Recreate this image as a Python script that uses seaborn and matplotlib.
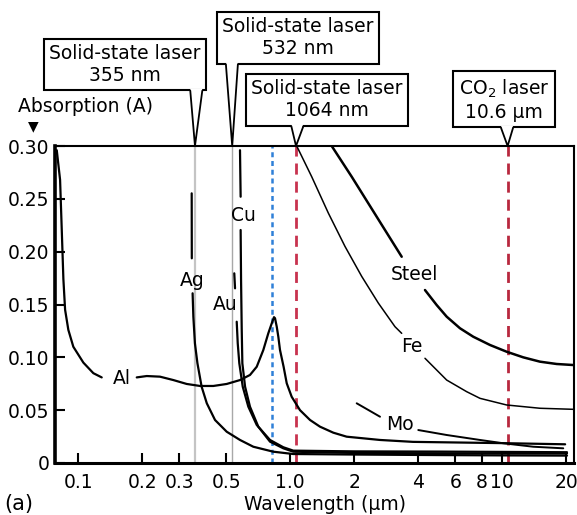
import matplotlib
matplotlib.use("Agg")
import matplotlib.pyplot as plt
from matplotlib.patches import Polygon
from matplotlib.lines import Line2D
import numpy as np
import pandas as pd
import seaborn as sns

# ---------------- data (wavelength in um, absorption A) ----------------
al1_wl = [0.0791, 0.0820, 0.0835, 0.0850, 0.0866, 0.0897, 0.0947, 0.1056, 0.1177, 0.1289]
al1_abs = [0.296, 0.268, 0.221, 0.174, 0.145, 0.126, 0.110, 0.095, 0.085, 0.081]
al2_wl = [0.1886, 0.2102, 0.2428, 0.2806, 0.3246, 0.3751, 0.4334, 0.5012, 0.579, 0.6453,
          0.6944, 0.7458, 0.7873, 0.8172, 0.8377, 0.847, 0.863, 0.878, 0.894, 0.930,
          0.962, 1.015, 1.111, 1.239, 1.380, 1.595, 1.845, 2.65, 3.79, 10.0, 19.8]
al2_abs = [0.0810, 0.0823, 0.0817, 0.0785, 0.0748, 0.0729, 0.0729, 0.0748, 0.0785, 0.0833,
           0.0911, 0.1069, 0.1227, 0.1321, 0.1380, 0.1370, 0.1290, 0.1195, 0.1070, 0.0910,
           0.0754, 0.0627, 0.0500, 0.0407, 0.0344, 0.0287, 0.0249, 0.0218, 0.0200, 0.0188, 0.0177]

ag1_wl = [0.3426, 0.3430]
ag1_abs = [0.2552, 0.1937]
ag2_wl = [0.3460, 0.3488, 0.3548, 0.3646, 0.3816, 0.4037, 0.4414, 0.5012, 0.579, 0.669,
          0.831, 1.033, 2.0, 5.0, 10.0, 20.2]
ag2_abs = [0.1606, 0.1385, 0.1133, 0.0944, 0.0722, 0.0565, 0.0407, 0.0296, 0.0218, 0.0154,
           0.0107, 0.0085, 0.0080, 0.0075, 0.0072, 0.0070]

cu1_wl = [0.579, 0.583]
cu1_abs = [0.296, 0.252]
cu2_wl = [0.583, 0.5857, 0.590, 0.594, 0.6118, 0.6453, 0.7063, 0.802, 0.927, 1.033,
          2.0, 5.0, 10.0, 20.2]
cu2_abs = [0.2205, 0.1732, 0.1259, 0.0944, 0.0722, 0.0533, 0.0344, 0.0202, 0.0139, 0.0107,
           0.0095, 0.0092, 0.0090, 0.0090]

au1_wl = [0.5441, 0.5486]
au1_abs = [0.1795, 0.1653]
au2_wl = [0.5587, 0.5649, 0.5746, 0.5965, 0.6338, 0.6944, 0.802, 0.927, 1.033,
          2.0, 5.0, 10.0, 20.2]
au2_abs = [0.1337, 0.1133, 0.0944, 0.0722, 0.0533, 0.0360, 0.0218, 0.0149, 0.0117,
           0.0110, 0.0108, 0.0105, 0.0102]

steel1_wl = [1.568, 1.949, 2.333, 2.797, 3.354]
steel1_abs = [0.3000, 0.2709, 0.2458, 0.2205, 0.1952]
steel2_wl = [4.319, 4.904, 5.467, 6.318, 7.298, 8.75, 10.49, 12.56, 15.06, 18.06, 21.7]
steel2_abs = [0.1637, 0.1495, 0.1385, 0.1275, 0.1195, 0.1117, 0.1053, 0.1000, 0.0959,
              0.0937, 0.0927]

fe1_wl = [1.072, 1.262, 1.511, 1.811, 2.172, 2.601, 3.118, 3.354]
fe1_abs = [0.300, 0.2709, 0.2366, 0.2050, 0.1766, 0.1514, 0.1290, 0.1227]
fe2_wl = [4.319, 4.904, 5.467, 6.793, 7.85, 10.49, 15.06, 21.7]
fe2_abs = [0.0991, 0.0880, 0.0785, 0.0675, 0.0612, 0.0549, 0.0518, 0.0508]

mo1_wl = [2.057, 2.333, 2.65]
mo1_abs = [0.0565, 0.0502, 0.0438]
mo2_wl = [4.016, 5.467, 7.85, 10.1, 14.0, 19.4]
mo2_abs = [0.0312, 0.0265, 0.0218, 0.0187, 0.0154, 0.0139]

laser_wl = [0.355, 0.532, 0.82, 1.064, 10.6]
callout_texts = ["Solid-state laser\n355 nm", "Solid-state laser\n532 nm", None,
                 "Solid-state laser\n1064 nm", "CO$_2$ laser\n10.6 \u03bcm"]

x_ticks = [0.1, 0.2, 0.3, 0.5, 1.0, 2, 4, 6, 8, 10, 20]
x_ticklabels = ["0.1", "0.2", "0.3", "0.5", "1.0", "2", "4", "6", "8", "10", "20"]
y_ticks = [0, 0.05, 0.10, 0.15, 0.20, 0.25, 0.30]
y_ticklabels = ["0", "0.05", "0.10", "0.15", "0.20", "0.25", "0.30"]

# ---------------- style ----------------
sns.set_style("ticks")
plt.rcParams["font.family"] = ["DejaVu Sans"]
plt.rcParams["text.color"] = "black"
plt.rcParams["axes.labelcolor"] = "black"
plt.rcParams["xtick.color"] = "black"
plt.rcParams["ytick.color"] = "black"
FS = 13.5

W, H = 577, 515
fig = plt.figure(figsize=(W / 100, H / 100), dpi=100)
ax = fig.add_axes([55 / W, 1 - 463 / H, (574 - 55) / W, (463 - 146) / H])

# laser lines
laser_styles = [
    dict(color="#c4c4c4", lw=1.6, ls="-"),
    dict(color="#a8a8a8", lw=1.0, ls="-"),
    dict(color="#2f80d8", lw=1.8, ls=(0, (2, 1.5))),
    dict(color="#c8324e", lw=2.0, ls=(0, (4, 2.5))),
    dict(color="#b8283e", lw=2.0, ls=(0, (4, 2.5))),
]
for wl, st in zip(laser_wl, laser_styles):
    ax.axvline(wl, zorder=1, **st)

segments = [
    (al1_wl, al1_abs, 1.6), (al2_wl, al2_abs, 1.6),
    (ag1_wl, ag1_abs, 1.6), (ag2_wl, ag2_abs, 1.6),
    (cu1_wl, cu1_abs, 1.6), (cu2_wl, cu2_abs, 1.6),
    (au1_wl, au1_abs, 1.6), (au2_wl, au2_abs, 1.6),
    (steel1_wl, steel1_abs, 1.8), (steel2_wl, steel2_abs, 1.8),
    (fe1_wl, fe1_abs, 1.1), (fe2_wl, fe2_abs, 1.1),
    (mo1_wl, mo1_abs, 1.4), (mo2_wl, mo2_abs, 1.4),
]
for xs, ys, lw in segments:
    sns.lineplot(x=xs, y=ys, ax=ax, color="black", lw=lw, sort=False,
                 estimator=None, zorder=3, solid_joinstyle="round",
                 solid_capstyle="round")

# curve labels
labels = [("Al", 0.161, 0.080), ("Ag", 0.344, 0.173), ("Cu", 0.598, 0.234),
          ("Au", 0.492, 0.150), ("Steel", 3.87, 0.178), ("Fe", 3.75, 0.110),
          ("Mo", 3.29, 0.036)]
for t, x, y in labels:
    ax.text(x, y, t, fontsize=FS, ha="center", va="center", zorder=4)

ax.set_xscale("log")
ax.set_xlim(0.0776, 21.8)
ax.set_ylim(0, 0.30)
ax.set_xticks(x_ticks)
ax.set_xticklabels(x_ticklabels)
ax.xaxis.set_minor_locator(matplotlib.ticker.NullLocator())
ax.set_yticks(y_ticks)
ax.set_yticklabels(y_ticklabels)
ax.tick_params(axis="both", direction="in", length=7, width=1.5, labelsize=FS,
               colors="black")
ax.tick_params(axis="x", pad=7)
ax.tick_params(axis="y", pad=4)
ax.set_xlabel("")
ax.set_ylabel("")
for side, lw in [("left", 2.6), ("bottom", 2.2), ("top", 1.5), ("right", 1.5)]:
    ax.spines[side].set_visible(True)
    ax.spines[side].set_linewidth(lw)
    ax.spines[side].set_color("black")

# callouts: box centre (figure pixels) and pointer position along box bottom
callout_pos = [(125, H - 64.5, 0.94), (297.5, H - 38, 0.095), None,
               (326.5, H - 100, 0.32), (504, H - 100, 0.53)]
boxes = []
for wl, txt, pos in zip(laser_wl, callout_texts, callout_pos):
    if txt is None:
        continue
    cx, cy, rp = pos
    t = fig.text(cx / W, cy / H, txt, ha="center", va="center", fontsize=FS,
                 linespacing=1.2, zorder=5,
                 bbox=dict(boxstyle="square,pad=0.28", fc="white", ec="black", lw=1.5))
    boxes.append((t, wl, rp))

fig.canvas.draw()
half = 6.0
for t, wl, rp in boxes:
    bb = t.get_bbox_patch().get_window_extent()
    bx = bb.x0 + rp * bb.width
    by = bb.y0
    tx, ty = ax.transData.transform((wl, 0.30))
    pts = [(bx - half, by + 1.6), (tx, ty), (bx + half, by + 1.6)]
    fpts = [(px / W, py / H) for px, py in pts]
    fig.add_artist(Polygon(fpts, closed=True, fc="white", ec="none",
                           transform=fig.transFigure, zorder=6))
    fig.add_artist(Line2D([fpts[0][0], fpts[1][0], fpts[2][0]],
                          [(by - 0.5) / H, fpts[1][1], (by - 0.5) / H],
                          color="black", lw=1.3, transform=fig.transFigure,
                          zorder=7, solid_joinstyle="miter"))

fig.text(86 / W, 1 - 107 / H, "Absorption (A)", fontsize=FS, ha="center", va="center")
fig.text(33 / W, 1 - 126 / H, "\u25bc", fontsize=10, ha="center", va="center")
fig.text(325 / W, 1 - 504 / H, "Wavelength (\u03bcm)", fontsize=FS, ha="center", va="center")
fig.text(4 / W, 1 - 504 / H, "(a)", fontsize=15, ha="left", va="center")

fig.savefig("out.png", dpi=100)
